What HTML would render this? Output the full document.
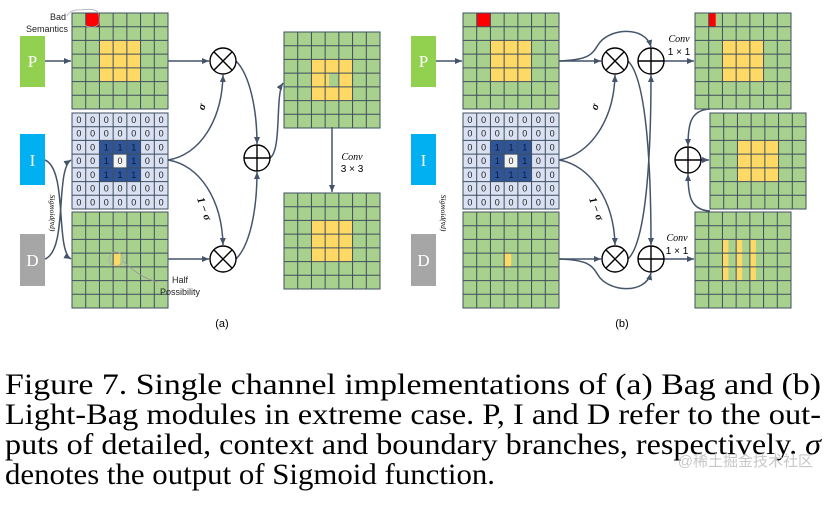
<!DOCTYPE html>
<html><head><meta charset="utf-8"><style>
html,body{margin:0;padding:0;background:#fff;width:827px;height:517px;overflow:hidden}
svg{display:block}
</style></head><body>
<svg width="827" height="517" viewBox="0 0 827 517" xmlns="http://www.w3.org/2000/svg" font-family="Liberation Sans, sans-serif">
<defs>
<marker id="ar" markerWidth="8" markerHeight="8" refX="7" refY="4" orient="auto" markerUnits="userSpaceOnUse"><path d="M0,1 L7,4 L0,7 z" fill="#44546a"/></marker>
<g id="gl" fill="none" stroke="#3e4e5e" stroke-width="1">
<rect x="0" y="0" width="96" height="96"/>
<path d="M13.71,0V96M27.43,0V96M41.14,0V96M54.86,0V96M68.57,0V96M82.29,0V96M0,13.71H96M0,27.43H96M0,41.14H96M0,54.86H96M0,68.57H96M0,82.29H96"/>
</g>
<g id="cx"><circle r="13" fill="#fff" stroke="#000" stroke-width="1.4"/><path d="M-9.2,-9.2L9.2,9.2M9.2,-9.2L-9.2,9.2" stroke="#000" stroke-width="1.4"/></g>
<g id="cp"><circle r="13" fill="#fff" stroke="#000" stroke-width="1.4"/><path d="M-13,0H13M0,-13V13" stroke="#000" stroke-width="1.4"/></g>
<g id="ig">
<rect width="96" height="96" fill="#d9e1f2"/>
<rect x="27.43" y="27.43" width="41.14" height="41.14" fill="#2f5597"/>
<rect x="41.14" y="41.14" width="13.71" height="13.71" fill="#f2f2f2"/>
<use href="#gl"/>
<g font-size="9" fill="#222" text-anchor="middle">
<text x="6.9" y="10">0</text><text x="20.6" y="10">0</text><text x="34.3" y="10">0</text><text x="48" y="10">0</text><text x="61.7" y="10">0</text><text x="75.4" y="10">0</text><text x="89.1" y="10">0</text>
<text x="6.9" y="23.7">0</text><text x="20.6" y="23.7">0</text><text x="34.3" y="23.7">0</text><text x="48" y="23.7">0</text><text x="61.7" y="23.7">0</text><text x="75.4" y="23.7">0</text><text x="89.1" y="23.7">0</text>
<text x="6.9" y="37.4">0</text><text x="20.6" y="37.4">0</text><text x="34.3" y="37.4" fill="#0d1a3a">1</text><text x="48" y="37.4" fill="#0d1a3a">1</text><text x="61.7" y="37.4" fill="#0d1a3a">1</text><text x="75.4" y="37.4">0</text><text x="89.1" y="37.4">0</text>
<text x="6.9" y="51.1">0</text><text x="20.6" y="51.1">0</text><text x="34.3" y="51.1" fill="#0d1a3a">1</text><text x="48" y="51.1">0</text><text x="61.7" y="51.1" fill="#0d1a3a">1</text><text x="75.4" y="51.1">0</text><text x="89.1" y="51.1">0</text>
<text x="6.9" y="64.9">0</text><text x="20.6" y="64.9">0</text><text x="34.3" y="64.9" fill="#0d1a3a">1</text><text x="48" y="64.9" fill="#0d1a3a">1</text><text x="61.7" y="64.9" fill="#0d1a3a">1</text><text x="75.4" y="64.9">0</text><text x="89.1" y="64.9">0</text>
<text x="6.9" y="78.6">0</text><text x="20.6" y="78.6">0</text><text x="34.3" y="78.6">0</text><text x="48" y="78.6">0</text><text x="61.7" y="78.6">0</text><text x="75.4" y="78.6">0</text><text x="89.1" y="78.6">0</text>
<text x="6.9" y="92.3">0</text><text x="20.6" y="92.3">0</text><text x="34.3" y="92.3">0</text><text x="48" y="92.3">0</text><text x="61.7" y="92.3">0</text><text x="75.4" y="92.3">0</text><text x="89.1" y="92.3">0</text>
</g>
</g>
</defs>

<!-- ===== Panel (a) ===== -->
<rect x="20" y="36" width="25" height="51" fill="#92d050"/>
<text x="32.5" y="67" font-family="Liberation Serif, serif" font-size="17" fill="#fff" text-anchor="middle">P</text>
<rect x="20" y="134" width="25" height="51" fill="#00b0f0"/>
<text x="32.5" y="166" font-family="Liberation Serif, serif" font-size="17" fill="#fff" text-anchor="middle">I</text>
<rect x="20" y="234" width="25" height="52" fill="#a6a6a6"/>
<text x="32.5" y="266" font-family="Liberation Serif, serif" font-size="17" fill="#fff" text-anchor="middle">D</text>

<g transform="translate(72,13)">
<rect width="96" height="96" fill="#a9d18e"/>
<rect x="27.43" y="27.43" width="41.14" height="41.14" fill="#ffd966"/>
<rect x="13.71" y="0" width="13.71" height="13.71" fill="#ff0000"/>
<use href="#gl"/>
</g>
<use href="#ig" x="72" y="113"/>
<g transform="translate(72,212)">
<rect width="96" height="96" fill="#a9d18e"/>
<rect x="41.14" y="41.14" width="7" height="13.71" fill="#ffd966"/>
<use href="#gl"/>
</g>
<circle cx="116" cy="259" r="7" fill="none" stroke="#aaa" stroke-width="0.8"/>
<path d="M123,261 Q140,278 158,282" fill="none" stroke="#999" stroke-width="0.8"/>
<text x="180" y="283" font-size="9" fill="#222" text-anchor="middle">Half</text>
<text x="180" y="295" font-size="9" fill="#222" text-anchor="middle">Possibility</text>
<path d="M67,16 Q70,9 82,10 Q93,8 98,12 Q100,16 99,24 Q92,30 85,25" fill="none" stroke="#aaa" stroke-width="0.8"/>
<text x="58" y="20" font-size="9" fill="#222" text-anchor="middle">Bad</text>
<text x="47" y="32" font-size="9" fill="#222" text-anchor="middle">Semantics</text>

<g transform="translate(284,32)">
<rect width="96" height="96" fill="#a9d18e"/>
<rect x="27.43" y="27.43" width="41.14" height="41.14" fill="#ffd966"/>
<rect x="45" y="41.14" width="9.86" height="13.71" fill="#a9d18e"/>
<use href="#gl"/>
</g>
<g transform="translate(284,193)">
<rect width="96" height="96" fill="#a9d18e"/>
<rect x="27.43" y="27.43" width="41.14" height="41.14" fill="#ffd966"/>
<use href="#gl"/>
</g>

<g fill="none" stroke="#44546a" stroke-width="1.5">
<path d="M45,61 H71" marker-end="url(#ar)"/>
<path d="M168,61 H209" marker-end="url(#ar)"/>
<path d="M168,259 H209" marker-end="url(#ar)"/>
<path d="M168,160 C200,155 222,120 223,75" marker-end="url(#ar)"/>
<path d="M168,160 C200,165 222,200 223,245" marker-end="url(#ar)"/>
<path d="M236,61 C250,75 257,110 257,144" marker-end="url(#ar)"/>
<path d="M236,259 C250,245 257,210 257,172" marker-end="url(#ar)"/>
<path d="M270,158 C282,150 275,95 283,83" marker-end="url(#ar)"/>
<path d="M332,127 V192" marker-end="url(#ar)"/>
<path d="M45,160 C68,170 55,250 71,259" marker-end="url(#ar)"/>
<path d="M45,259 C68,250 55,170 71,160" marker-end="url(#ar)"/>
</g>
<use href="#cx" x="223" y="61"/>
<use href="#cx" x="223" y="259"/>
<use href="#cp" x="257" y="158"/>
<text x="352" y="160" font-family="Liberation Serif, serif" font-style="italic" font-size="10" text-anchor="middle">Conv</text>
<text x="352" y="172" font-size="10" text-anchor="middle">3 × 3</text>
<text transform="translate(205,108) rotate(-70)" font-family="Liberation Serif, serif" font-style="italic" font-weight="bold" font-size="11" text-anchor="middle">σ</text>
<text transform="translate(201,210) rotate(70)" font-family="Liberation Serif, serif" font-style="italic" font-weight="bold" font-size="11" text-anchor="middle">1 − σ</text>
<text transform="translate(50,213) rotate(90)" font-family="Liberation Serif, serif" font-style="italic" font-size="7.5" text-anchor="middle">Sigmoid(v̄d)</text>
<text x="222" y="327" font-size="11" text-anchor="middle">(a)</text>

<!-- ===== Panel (b) ===== -->
<rect x="411" y="36" width="25" height="51" fill="#92d050"/>
<text x="423.5" y="67" font-family="Liberation Serif, serif" font-size="17" fill="#fff" text-anchor="middle">P</text>
<rect x="411" y="134" width="25" height="51" fill="#00b0f0"/>
<text x="423.5" y="166" font-family="Liberation Serif, serif" font-size="17" fill="#fff" text-anchor="middle">I</text>
<rect x="411" y="234" width="25" height="52" fill="#a6a6a6"/>
<text x="423.5" y="266" font-family="Liberation Serif, serif" font-size="17" fill="#fff" text-anchor="middle">D</text>

<g transform="translate(463,13)">
<rect width="96" height="96" fill="#a9d18e"/>
<rect x="27.43" y="27.43" width="41.14" height="41.14" fill="#ffd966"/>
<rect x="13.71" y="0" width="13.71" height="13.71" fill="#ff0000"/>
<use href="#gl"/>
</g>
<use href="#ig" x="463" y="113"/>
<g transform="translate(463,212)">
<rect width="96" height="96" fill="#a9d18e"/>
<rect x="41.14" y="41.14" width="7" height="13.71" fill="#ffd966"/>
<use href="#gl"/>
</g>
<g transform="translate(695,13)">
<rect width="96" height="96" fill="#a9d18e"/>
<rect x="27.43" y="27.43" width="41.14" height="41.14" fill="#ffd966"/>
<rect x="13.71" y="0" width="7" height="13.71" fill="#ff0000"/>
<use href="#gl"/>
</g>
<g transform="translate(710,113)">
<rect width="96" height="96" fill="#a9d18e"/>
<rect x="27.43" y="27.43" width="41.14" height="41.14" fill="#ffd966"/>
<use href="#gl"/>
</g>
<g transform="translate(695,212)">
<rect width="96" height="96" fill="#a9d18e"/>
<rect x="27.43" y="27.43" width="6" height="41.14" fill="#ffd966"/>
<rect x="41.14" y="27.43" width="6" height="41.14" fill="#ffd966"/>
<rect x="54.86" y="27.43" width="6" height="41.14" fill="#ffd966"/>
<use href="#gl"/>
</g>

<g fill="none" stroke="#44546a" stroke-width="1.5">
<path d="M436,61 H462" marker-end="url(#ar)"/>
<path d="M559,61 H601" marker-end="url(#ar)"/>
<path d="M559,259 H601" marker-end="url(#ar)"/>
<path d="M559,61 C590,60 592,54 598,45 C608,28 645,25 651,47" marker-end="url(#ar)"/>
<path d="M559,259 C590,260 592,266 598,275 C608,292 645,295 651,273" marker-end="url(#ar)"/>
<path d="M559,160 C590,155 614,120 615,75" marker-end="url(#ar)"/>
<path d="M559,160 C590,165 614,200 615,245" marker-end="url(#ar)"/>
<path d="M628,61 C648,80 651,180 651,245" marker-end="url(#ar)"/>
<path d="M628,259 C648,240 651,140 651,75" marker-end="url(#ar)"/>
<path d="M664,61 H694" marker-end="url(#ar)"/>
<path d="M664,259 H694" marker-end="url(#ar)"/>
<path d="M710,109 C690,110 688,125 688,146" marker-end="url(#ar)"/>
<path d="M710,211 C690,210 688,195 688,174" marker-end="url(#ar)"/>
<path d="M701,160 H709" marker-end="url(#ar)"/>
</g>
<use href="#cx" x="615" y="61"/>
<use href="#cx" x="615" y="259"/>
<use href="#cp" x="651" y="61"/>
<use href="#cp" x="651" y="259"/>
<use href="#cp" x="688" y="160"/>
<text x="679" y="42" font-family="Liberation Serif, serif" font-style="italic" font-size="10" text-anchor="middle">Conv</text>
<text x="679" y="55" font-size="10" text-anchor="middle">1 × 1</text>
<text x="677" y="241" font-family="Liberation Serif, serif" font-style="italic" font-size="10" text-anchor="middle">Conv</text>
<text x="677" y="254" font-size="10" text-anchor="middle">1 × 1</text>
<text transform="translate(598,108) rotate(-70)" font-family="Liberation Serif, serif" font-style="italic" font-weight="bold" font-size="11" text-anchor="middle">σ</text>
<text transform="translate(593,210) rotate(70)" font-family="Liberation Serif, serif" font-style="italic" font-weight="bold" font-size="11" text-anchor="middle">1 − σ</text>
<text transform="translate(441,213) rotate(90)" font-family="Liberation Serif, serif" font-style="italic" font-size="7.5" text-anchor="middle">Sigmoid(v̄d)</text>
<text x="622" y="327" font-size="11" text-anchor="middle">(b)</text>

<!-- caption -->
<g font-family="Liberation Serif, serif" font-size="30" fill="#000">
<text x="5" y="394" textLength="816" lengthAdjust="spacingAndGlyphs">Figure 7.  Single channel implementations of (a) Bag and (b)</text>
<text x="5" y="424" textLength="816" lengthAdjust="spacingAndGlyphs">Light-Bag modules in extreme case.  P, I and D refer to the out-</text>
<text x="5" y="454" textLength="816" lengthAdjust="spacingAndGlyphs">puts of detailed, context and boundary branches, respectively.  <tspan font-style="italic">σ</tspan></text>
<text x="5" y="484" textLength="490" lengthAdjust="spacingAndGlyphs">denotes the output of Sigmoid function.</text>
</g>
<text x="813" y="466" font-family="Liberation Sans, Noto Sans CJK SC, sans-serif" font-size="15" fill="#c8c8c8" text-anchor="end">@稀土掘金技术社区</text>
</svg>
</body></html>
